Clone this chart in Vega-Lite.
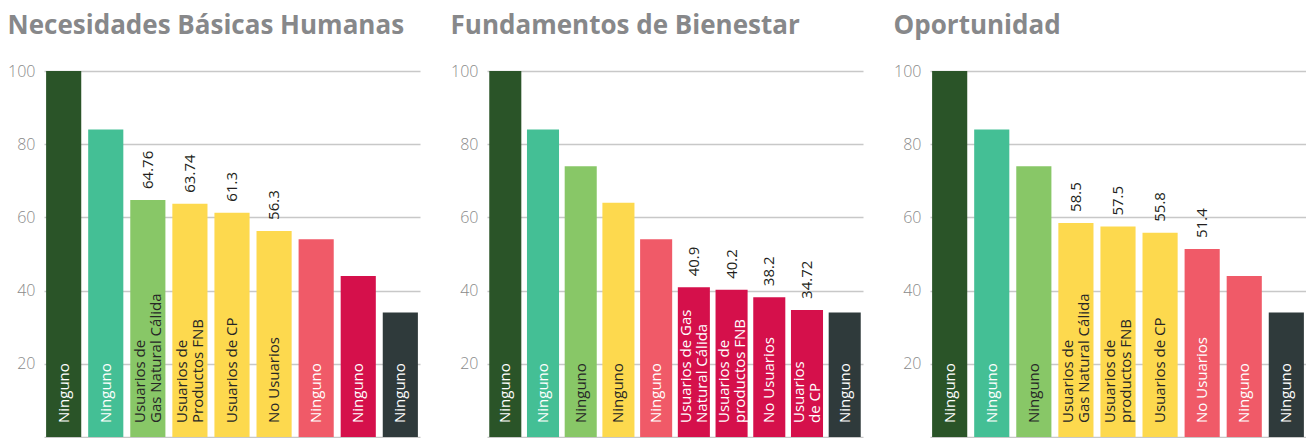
{
  "$schema": "https://vega.github.io/schema/vega-lite/v6.json",
  "padding": {"left": 7, "top": 13, "right": 0, "bottom": 1},
  "spacing": 30,
  "config": {
    "view": {"stroke": null},
    "font": "Open Sans",
    "title": {"fontSize": 26, "fontWeight": "bold", "color": "#87888a", "anchor": "start", "frame": "bounds", "offset": 24},
    "axisX": {"title": null, "labels": false, "ticks": false, "grid": false, "domain": true, "domainColor": "#c8c8c8", "domainWidth": 1.5},
    "axisY": {"title": null, "domain": false, "ticks": false, "labelPadding": 9, "labelFontSize": 16, "labelFontWeight": 300, "labelColor": "#8a8a8a", "gridColor": "#c8c8c8", "gridWidth": 1.5}
  },
  "hconcat": [
    {
      "title": "Necesidades Básicas Humanas",
      "width": 376,
      "height": 366,
      "data": {"values": [
        {"i": 1, "nivel": "n1", "v": 100, "lab": "Ninguno", "destacado": false},
        {"i": 2, "nivel": "n2", "v": 84, "lab": "Ninguno", "destacado": false},
        {"i": 3, "nivel": "n3", "v": 64.76, "lab": "Usuarios de\nGas Natural Cálida", "destacado": true},
        {"i": 4, "nivel": "n4", "v": 63.74, "lab": "Usuarios de\nProductos FNB", "destacado": true},
        {"i": 5, "nivel": "n4", "v": 61.3, "lab": "Usuarios de CP", "destacado": true},
        {"i": 6, "nivel": "n4", "v": 56.3, "lab": "No Usuarios", "destacado": true},
        {"i": 7, "nivel": "n5", "v": 54, "lab": "Ninguno", "destacado": false},
        {"i": 8, "nivel": "n6", "v": 44, "lab": "Ninguno", "destacado": false},
        {"i": 9, "nivel": "n7", "v": 34, "lab": "Ninguno", "destacado": false}
      ]},
      "encoding": {
        "x": {"field": "i", "type": "ordinal", "scale": {"paddingInner": 0.165, "paddingOuter": 0.05}},
        "y": {"field": "v", "type": "quantitative", "scale": {"domain": [0, 100]}, "axis": {"values": [20, 40, 60, 80, 100]}}
      },
      "layer": [
        {"mark": {"type": "bar"}, "encoding": {"color": {"field": "nivel", "type": "nominal", "legend": null, "scale": {"domain": ["n1", "n2", "n3", "n4", "n5", "n6", "n7"], "range": ["#2a5428", "#44bf95", "#88c767", "#fdd94e", "#f05a68", "#d5104b", "#2f3a3b"]}}}},
        {"transform": [{"filter": "indexof(datum.lab, '\\n') < 0"}],
         "mark": {"type": "text", "angle": 270, "align": "left", "baseline": "middle", "dx": 14, "fontSize": 15},
         "encoding": {"y": {"datum": 0}, "text": {"field": "lab", "type": "nominal"}, "color": {"condition": {"test": "datum.nivel === 'n3' || datum.nivel === 'n4'", "value": "#262626"}, "value": "#ffffff"}}},
        {"transform": [{"filter": "indexof(datum.lab, '\\n') >= 0"}],
         "mark": {"type": "text", "angle": 270, "align": "left", "baseline": "middle", "dx": 14, "dy": -8, "fontSize": 15, "lineHeight": 16, "lineBreak": "\n"},
         "encoding": {"y": {"datum": 0}, "text": {"field": "lab", "type": "nominal"}, "color": {"condition": {"test": "datum.nivel === 'n3' || datum.nivel === 'n4'", "value": "#262626"}, "value": "#ffffff"}}},
        {"transform": [{"filter": "datum.destacado"}], "mark": {"type": "text", "angle": 270, "align": "left", "baseline": "middle", "dx": 11, "fontSize": 15, "color": "#231f20"},
         "encoding": {"text": {"field": "v", "type": "quantitative"}}}
      ]
    },
    {
      "title": "Fundamentos de Bienestar",
      "width": 376,
      "height": 366,
      "data": {"values": [
        {"i": 1, "nivel": "n1", "v": 100, "lab": "Ninguno", "destacado": false},
        {"i": 2, "nivel": "n2", "v": 84, "lab": "Ninguno", "destacado": false},
        {"i": 3, "nivel": "n3", "v": 74, "lab": "Ninguno", "destacado": false},
        {"i": 4, "nivel": "n4", "v": 64, "lab": "Ninguno", "destacado": false},
        {"i": 5, "nivel": "n5", "v": 54, "lab": "Ninguno", "destacado": false},
        {"i": 6, "nivel": "n6", "v": 40.9, "lab": "Usuarios de Gas\nNatural Cálida", "destacado": true},
        {"i": 7, "nivel": "n6", "v": 40.2, "lab": "Usuarios de\nproductos FNB", "destacado": true},
        {"i": 8, "nivel": "n6", "v": 38.2, "lab": "No Usuarios", "destacado": true},
        {"i": 9, "nivel": "n6", "v": 34.72, "lab": "Usuarios\nde CP", "destacado": true},
        {"i": 10, "nivel": "n7", "v": 34, "lab": "Ninguno", "destacado": false}
      ]},
      "encoding": {
        "x": {"field": "i", "type": "ordinal", "scale": {"paddingInner": 0.15, "paddingOuter": 0.06}},
        "y": {"field": "v", "type": "quantitative", "scale": {"domain": [0, 100]}, "axis": {"values": [20, 40, 60, 80, 100]}}
      },
      "layer": [
        {"mark": {"type": "bar"}, "encoding": {"color": {"field": "nivel", "type": "nominal", "legend": null, "scale": {"domain": ["n1", "n2", "n3", "n4", "n5", "n6", "n7"], "range": ["#2a5428", "#44bf95", "#88c767", "#fdd94e", "#f05a68", "#d5104b", "#2f3a3b"]}}}},
        {"transform": [{"filter": "indexof(datum.lab, '\\n') < 0"}],
         "mark": {"type": "text", "angle": 270, "align": "left", "baseline": "middle", "dx": 14, "fontSize": 15},
         "encoding": {"y": {"datum": 0}, "text": {"field": "lab", "type": "nominal"}, "color": {"condition": {"test": "datum.nivel === 'n3' || datum.nivel === 'n4'", "value": "#262626"}, "value": "#ffffff"}}},
        {"transform": [{"filter": "indexof(datum.lab, '\\n') >= 0"}],
         "mark": {"type": "text", "angle": 270, "align": "left", "baseline": "middle", "dx": 14, "dy": -8, "fontSize": 15, "lineHeight": 16, "lineBreak": "\n"},
         "encoding": {"y": {"datum": 0}, "text": {"field": "lab", "type": "nominal"}, "color": {"condition": {"test": "datum.nivel === 'n3' || datum.nivel === 'n4'", "value": "#262626"}, "value": "#ffffff"}}},
        {"transform": [{"filter": "datum.destacado"}], "mark": {"type": "text", "angle": 270, "align": "left", "baseline": "middle", "dx": 11, "fontSize": 15, "color": "#231f20"},
         "encoding": {"text": {"field": "v", "type": "quantitative"}}}
      ]
    },
    {
      "title": "Oportunidad",
      "width": 376,
      "height": 366,
      "data": {"values": [
        {"i": 1, "nivel": "n1", "v": 100, "lab": "Ninguno", "destacado": false},
        {"i": 2, "nivel": "n2", "v": 84, "lab": "Ninguno", "destacado": false},
        {"i": 3, "nivel": "n3", "v": 74, "lab": "Ninguno", "destacado": false},
        {"i": 4, "nivel": "n4", "v": 58.5, "lab": "Usuarios de\nGas Natural Cálida", "destacado": true},
        {"i": 5, "nivel": "n4", "v": 57.5, "lab": "Usuarios de\nproductos FNB", "destacado": true},
        {"i": 6, "nivel": "n4", "v": 55.8, "lab": "Usuarios de CP", "destacado": true},
        {"i": 7, "nivel": "n5", "v": 51.4, "lab": "No Usuarios", "destacado": true},
        {"i": 8, "nivel": "n5", "v": 44, "lab": "Ninguno", "destacado": false},
        {"i": 9, "nivel": "n7", "v": 34, "lab": "Ninguno", "destacado": false}
      ]},
      "encoding": {
        "x": {"field": "i", "type": "ordinal", "scale": {"paddingInner": 0.165, "paddingOuter": 0.05}},
        "y": {"field": "v", "type": "quantitative", "scale": {"domain": [0, 100]}, "axis": {"values": [20, 40, 60, 80, 100]}}
      },
      "layer": [
        {"mark": {"type": "bar"}, "encoding": {"color": {"field": "nivel", "type": "nominal", "legend": null, "scale": {"domain": ["n1", "n2", "n3", "n4", "n5", "n6", "n7"], "range": ["#2a5428", "#44bf95", "#88c767", "#fdd94e", "#f05a68", "#d5104b", "#2f3a3b"]}}}},
        {"transform": [{"filter": "indexof(datum.lab, '\\n') < 0"}],
         "mark": {"type": "text", "angle": 270, "align": "left", "baseline": "middle", "dx": 14, "fontSize": 15},
         "encoding": {"y": {"datum": 0}, "text": {"field": "lab", "type": "nominal"}, "color": {"condition": {"test": "datum.nivel === 'n3' || datum.nivel === 'n4'", "value": "#262626"}, "value": "#ffffff"}}},
        {"transform": [{"filter": "indexof(datum.lab, '\\n') >= 0"}],
         "mark": {"type": "text", "angle": 270, "align": "left", "baseline": "middle", "dx": 14, "dy": -8, "fontSize": 15, "lineHeight": 16, "lineBreak": "\n"},
         "encoding": {"y": {"datum": 0}, "text": {"field": "lab", "type": "nominal"}, "color": {"condition": {"test": "datum.nivel === 'n3' || datum.nivel === 'n4'", "value": "#262626"}, "value": "#ffffff"}}},
        {"transform": [{"filter": "datum.destacado"}], "mark": {"type": "text", "angle": 270, "align": "left", "baseline": "middle", "dx": 11, "fontSize": 15, "color": "#231f20"},
         "encoding": {"text": {"field": "v", "type": "quantitative"}}}
      ]
    }
  ]
}
